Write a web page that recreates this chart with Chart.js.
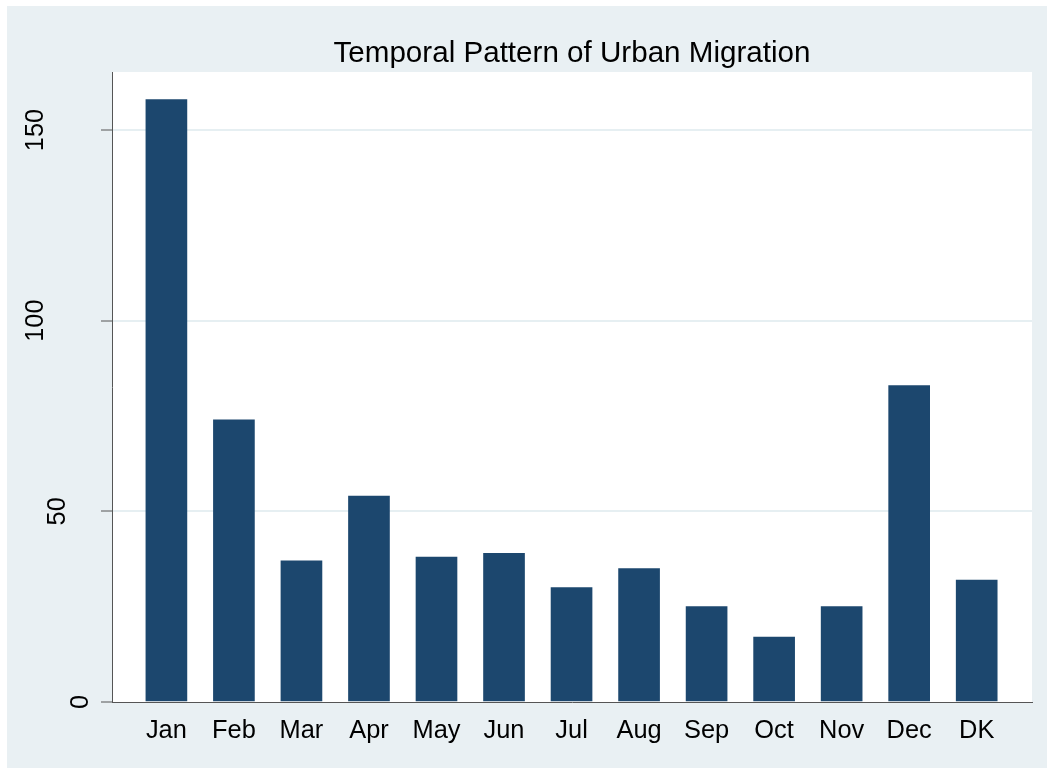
<!DOCTYPE html>
<html><head><meta charset="utf-8">
<script src="https://cdn.jsdelivr.net/npm/chart.js@4"></script>
<style>html,body{margin:0;padding:0;background:#fff;}#wrap{width:1047px;height:769px;}</style>
</head><body><div id="wrap"><canvas id="c" width="1047" height="769"></canvas></div>
<script>
const categories = ['Jan','Feb','Mar','Apr','May','Jun','Jul','Aug','Sep','Oct','Nov','Dec','DK'];
const migrants = [158,74,37,54,38,39,30,35,25,17,25,83,32];
const yTickValues = [0,50,100,150];
const titleText = 'Temporal Pattern of Urban Migration';

const FONT = '"Liberation Sans", Arial, sans-serif';

const bgPlugin = {
  id: 'bg',
  beforeDraw(chart) {
    const ctx = chart.ctx, a = chart.chartArea;
    ctx.save();
    ctx.fillStyle = '#ffffff';
    ctx.fillRect(0, 0, chart.width, chart.height);
    ctx.fillStyle = '#e9f0f3';
    ctx.fillRect(7, 6, chart.width - 7, chart.height - 7);
    ctx.fillStyle = '#ffffff';
    ctx.fillRect(a.left, a.top, a.right - a.left, a.bottom - a.top);
    ctx.restore();
  }
};

const yLabelPlugin = {
  id: 'ylabels',
  afterDraw(chart) {
    const ctx = chart.ctx, y = chart.scales.y;
    ctx.save();
    ctx.font = '25.4px ' + FONT;
    ctx.fillStyle = '#000';
    ctx.textAlign = 'center';
    ctx.textBaseline = 'middle';
    y.ticks.forEach(t => {
      const label = String(t.value);
      const w = ctx.measureText(label).width;
      const cx = 103.2 - 1.594 * w;
      const cy = y.getPixelForValue(t.value);
      ctx.save();
      ctx.translate(cx, cy);
      ctx.rotate(-Math.PI / 2);
      ctx.fillText(label, 0, 0);
      ctx.restore();
    });
    ctx.restore();
  }
};

new Chart(document.getElementById('c'), {
  type: 'bar',
  data: {
    datasets: [{
      label: 'Migrants',
      data: migrants.map((v, i) => ({x: i, y: v})),
      backgroundColor: '#1c476e',
      borderWidth: 0,
      barThickness: 41
    }]
  },
  options: {
    responsive: false,
    animation: false,
    devicePixelRatio: 1,
    layout: {padding: {left: 0, right: 15, top: 0, bottom: 0}},
    plugins: {
      legend: {display: false},
      tooltip: {enabled: false},
      title: {
        display: true,
        text: titleText,
        fullSize: false,
        color: '#000',
        font: {family: FONT, size: 29.6, weight: 'normal'},
        padding: {top: 36, bottom: 0.5}
      }
    },
    scales: {
      x: {
        type: 'linear',
        min: -0.8056,
        max: 12.819,
        offset: false,
        grid: {display: false, drawTicks: false},
        border: {display: true, color: '#555', width: 1},
        afterBuildTicks: s => { s.ticks = categories.map((c, i) => ({value: i})); },
        afterFit: s => { s.height = 67; },
        ticks: {
          autoSkip: false,
          maxRotation: 0,
          padding: 14,
          color: '#000',
          font: {family: FONT, size: 25.4},
          callback: v => categories[v] ?? ''
        }
      },
      y: {
        min: 0,
        max: 165.2,
        afterBuildTicks: s => { s.ticks = yTickValues.map(v => ({value: v})); },
        afterFit: s => { s.width = 112; },
        ticks: {display: false},
        grid: {
          color: ctx => (ctx.tick && ctx.tick.value === 0) ? 'rgba(0,0,0,0)' : '#e6eff2',
          lineWidth: 2,
          drawTicks: true,
          tickLength: 11,
          tickColor: '#555',
          tickWidth: 1
        },
        border: {display: true, color: '#555', width: 1}
      }
    }
  },
  plugins: [bgPlugin, yLabelPlugin]
});
</script>
</body></html>
